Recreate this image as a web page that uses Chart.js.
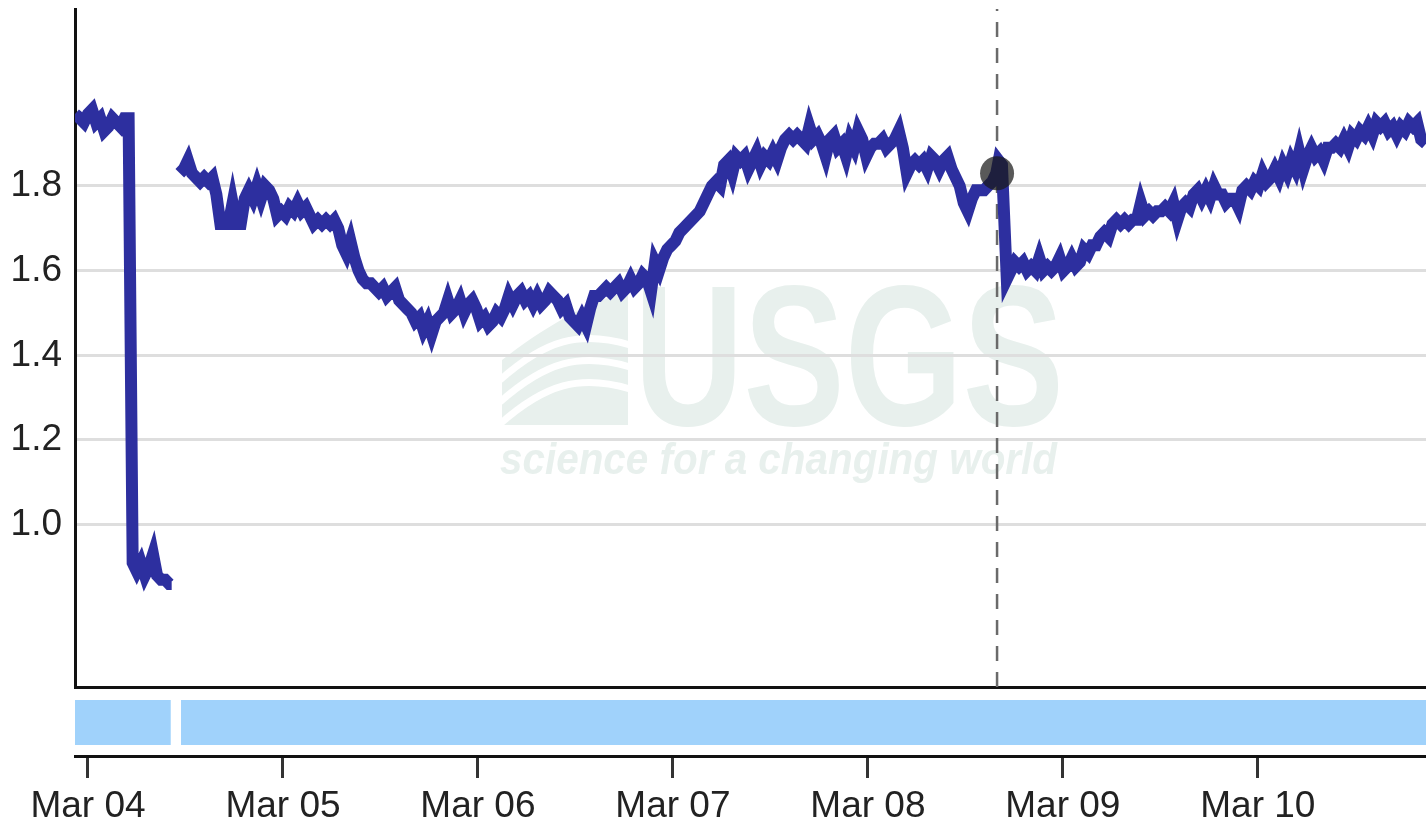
<!DOCTYPE html>
<html lang="en">
<head>
<meta charset="utf-8">
<title>Gage height, feet</title>
<script src="https://cdn.jsdelivr.net/npm/chart.js@4.4.1/dist/chart.umd.min.js"></script>
<style>
  html, body { margin: 0; padding: 0; background: #fff; }
  .chart-wrap { position: relative; width: 1426px; height: 825px; }
</style>
</head>
<body>
<div class="chart-wrap"><canvas id="stageChart" width="1426" height="825"></canvas></div>
<script>
(function () {
  "use strict";

  /* ---------- Data (hours after Mar 04 00:00, gage height in ft) ---------- */
  var hoursA = [-1.6, -1.0, -0.5, 0.0, 0.5, 1.0, 1.5, 2.0, 2.5, 3.0, 3.5, 4.0, 4.5, 5.0,
    5.5, 6.0, 6.5, 7.0, 7.5, 8.0, 8.5, 9.0, 9.5, 10.0, 10.3];
  var stageA = [1.97, 1.96, 1.95, 1.97, 1.98, 1.95, 1.96, 1.93, 1.94, 1.96, 1.95, 1.94, 1.96, 1.96,
    0.91, 0.89, 0.91, 0.88, 0.90, 0.93, 0.88, 0.87, 0.87, 0.86, 0.86];

  var hoursB = [11.3, 11.8, 12.3, 12.8, 13.3, 13.8, 14.3, 14.8, 15.3, 15.8, 16.3, 16.8, 17.3, 17.8,
    18.3, 18.8, 19.3, 19.8, 20.3, 20.8, 21.3, 21.8, 22.3, 22.8, 23.3, 23.8, 24.3, 24.8, 25.3, 25.8,
    26.3, 26.8, 27.3, 27.8, 28.3, 28.8, 29.3, 29.8, 30.3, 30.8, 31.3, 31.8, 32.3, 32.8, 33.3, 33.8,
    34.3, 34.8, 35.3, 35.8, 36.3, 36.8, 37.3, 37.8, 38.3, 38.8, 39.3, 39.8, 40.3, 40.8, 41.3, 41.8,
    42.3, 42.8, 43.3, 43.8, 44.3, 44.8, 45.3, 45.8, 46.3, 46.8, 47.3, 47.8, 48.3, 48.8, 49.3, 49.8,
    50.3, 50.8, 51.3, 51.8, 52.3, 52.8, 53.3, 53.8, 54.3, 54.8, 55.3, 55.8, 56.3, 56.8, 57.3, 57.8,
    58.3, 58.8, 59.3, 59.8, 60.3, 60.8, 61.3, 61.8, 62.3, 62.8, 63.3, 63.8, 64.3, 64.8, 65.3, 65.8,
    66.3, 66.8, 67.3, 67.8, 68.3, 68.8, 69.3, 69.8, 70.3, 70.8, 71.3, 71.8, 72.3, 72.8, 73.3, 73.8,
    74.3, 74.8, 75.3, 75.8, 76.3, 76.8, 77.3, 77.8, 78.3, 78.8, 79.3, 79.8, 80.3, 80.8, 81.3, 81.8,
    82.3, 82.8, 83.3, 83.8, 84.3, 84.8, 85.3, 85.8, 86.3, 86.8, 87.3, 87.8, 88.3, 88.8, 89.3, 89.8,
    90.3, 90.8, 91.3, 91.8, 92.3, 92.8, 93.3, 93.8, 94.3, 94.8, 95.3, 95.8, 96.3, 96.8, 97.3, 97.8,
    98.3, 98.8, 99.3, 99.8, 100.3, 100.8, 101.3, 101.8, 102.3, 102.8, 103.3, 103.8, 104.3, 104.8,
    105.3, 105.8, 106.3, 106.8, 107.3, 107.8, 108.3, 108.8, 109.3, 109.8, 110.3, 110.8, 111.3, 111.8,
    112.1, 112.5, 113.1, 113.6, 114.1, 114.6, 115.1, 115.6, 116.1, 116.6, 117.1, 117.6, 118.1, 118.6,
    119.1, 119.6, 120.1, 120.6, 121.1, 121.6, 122.1, 122.6, 123.1, 123.6, 124.1, 124.6, 125.1, 125.6,
    126.1, 126.6, 127.1, 127.6, 128.1, 128.6, 129.1, 129.6, 130.1, 130.6, 131.1, 131.6, 132.1, 132.6,
    133.1, 133.6, 134.1, 134.6, 135.1, 135.6, 136.1, 136.6, 137.1, 137.6, 138.1, 138.6, 139.1, 139.6,
    140.1, 140.6, 141.1, 141.6, 142.1, 142.6, 143.1, 143.6, 144.1, 144.6, 145.1, 145.6, 146.1, 146.6,
    147.1, 147.6, 148.1, 148.6, 149.1, 149.6, 150.1, 150.6, 151.1, 151.6, 152.1, 152.6, 153.1, 153.6,
    154.1, 154.6, 155.1, 155.6, 156.1, 156.6, 157.1, 157.6, 158.1, 158.6, 159.1, 159.6, 160.1, 160.6,
    161.1, 161.6, 162.1, 162.6, 163.1, 163.6, 164.1, 164.7];
  var stageB = [1.83, 1.84, 1.86, 1.83, 1.82, 1.81, 1.82, 1.81, 1.82, 1.78, 1.71, 1.71, 1.71, 1.76,
    1.71, 1.71, 1.77, 1.79, 1.77, 1.80, 1.77, 1.80, 1.79, 1.77, 1.73, 1.74, 1.73, 1.75, 1.74, 1.76,
    1.74, 1.75, 1.73, 1.71, 1.72, 1.71, 1.72, 1.71, 1.72, 1.70, 1.66, 1.64, 1.67, 1.63, 1.60, 1.58,
    1.57, 1.57, 1.56, 1.55, 1.56, 1.54, 1.55, 1.56, 1.53, 1.52, 1.51, 1.50, 1.48, 1.49, 1.46, 1.48,
    1.45, 1.48, 1.49, 1.50, 1.53, 1.50, 1.51, 1.53, 1.50, 1.52, 1.53, 1.51, 1.48, 1.49, 1.47, 1.48,
    1.50, 1.49, 1.51, 1.54, 1.52, 1.54, 1.55, 1.53, 1.54, 1.52, 1.54, 1.52, 1.53, 1.55, 1.54, 1.53,
    1.51, 1.52, 1.49, 1.48, 1.47, 1.49, 1.47, 1.51, 1.54, 1.54, 1.55, 1.56, 1.55, 1.56, 1.57, 1.55,
    1.56, 1.58, 1.56, 1.57, 1.59, 1.58, 1.55, 1.62, 1.60, 1.63, 1.65, 1.66, 1.67, 1.69, 1.70, 1.71,
    1.72, 1.73, 1.74, 1.76, 1.78, 1.80, 1.81, 1.80, 1.85, 1.86, 1.83, 1.87, 1.86, 1.87, 1.84, 1.86,
    1.88, 1.85, 1.87, 1.86, 1.88, 1.86, 1.89, 1.91, 1.92, 1.91, 1.92, 1.91, 1.90, 1.94, 1.91, 1.92,
    1.90, 1.87, 1.91, 1.92, 1.89, 1.90, 1.87, 1.91, 1.89, 1.93, 1.91, 1.87, 1.89, 1.90, 1.90, 1.91,
    1.89, 1.90, 1.91, 1.93, 1.89, 1.83, 1.85, 1.86, 1.85, 1.86, 1.84, 1.87, 1.86, 1.84,
    1.86, 1.87, 1.84, 1.82, 1.80, 1.76, 1.74, 1.77, 1.79, 1.79, 1.79, 1.80, 1.81, 1.83,
    1.86, 1.85, 1.58, 1.60, 1.62, 1.61, 1.62, 1.60, 1.61, 1.60, 1.63, 1.60, 1.61, 1.60,
    1.61, 1.63, 1.60, 1.61, 1.63, 1.61, 1.62, 1.65, 1.64, 1.66, 1.66, 1.68, 1.69, 1.68,
    1.71, 1.72, 1.71, 1.72, 1.71, 1.72, 1.72, 1.76, 1.73, 1.74, 1.73, 1.74, 1.74, 1.75,
    1.74, 1.76, 1.72, 1.75, 1.76, 1.75, 1.78, 1.79, 1.77, 1.79, 1.77, 1.80, 1.78, 1.78,
    1.76, 1.77, 1.77, 1.75, 1.79, 1.80, 1.79, 1.81, 1.80, 1.83, 1.81, 1.82, 1.84, 1.82,
    1.85, 1.83, 1.86, 1.84, 1.88, 1.84, 1.87, 1.89, 1.87, 1.88, 1.86, 1.89, 1.89, 1.90,
    1.89, 1.91, 1.89, 1.92, 1.91, 1.93, 1.92, 1.94, 1.92, 1.95, 1.94, 1.95, 1.93, 1.94,
    1.92, 1.94, 1.93, 1.95, 1.94, 1.95, 1.91, 1.90];

  var gapHour = 10.8;                        // missing record between the two runs
  var bandSpans = [[-1.6, 10.2], [11.45, 164.7]];   // approved-data bar segments
  var tickHours = [0, 24, 48, 72, 96, 120, 144];
  var tickLabels = ["Mar 04", "Mar 05", "Mar 06", "Mar 07", "Mar 08", "Mar 09", "Mar 10"];
  var yTicks = [1.0, 1.2, 1.4, 1.6, 1.8];
  var markerHour = 111.9;
  var markerStage = 1.83;

  var xMin = -1.6, xMax = 164.7;
  var yMin = 0.6165, yMax = 2.218;
  var bandMin = -0.2444, bandMax = 1.2889;

  /* ---------- Styles ---------- */
  var lineBlue = "#2d2f9f";
  var bandBlue = "#a0d2fb";
  var gridGray = "#dedede";
  var ink = "#111";
  var fontFamily = "'Liberation Sans', Arial, Helvetica, sans-serif";

  var stagePoints = hoursA.map(function (h, i) { return { x: h, y: stageA[i] }; })
    .concat([{ x: gapHour, y: null }])
    .concat(hoursB.map(function (h, i) { return { x: h, y: stageB[i] }; }));

  var bandSets = bandSpans.map(function (span) {
    return {
      type: "line",
      data: [{ x: span[0], y: 1 }, { x: span[1], y: 1 }],
      yAxisID: "yBand",
      borderWidth: 0,
      pointRadius: 0,
      backgroundColor: bandBlue,
      fill: { value: 0 },
      order: 4
    };
  });

  /* ---------- Faint watermark behind the plot ---------- */
  function fitText(ctx, text, font, x, y, w) {
    ctx.font = font;
    var m = ctx.measureText(text).width;
    ctx.save();
    ctx.translate(x, y);
    ctx.scale(w / m, 1);
    ctx.fillText(text, 0, 0);
    ctx.restore();
  }

  var watermark = {
    id: "watermark",
    beforeDraw: function (chart) {
      var ctx = chart.ctx;
      ctx.save();
      ctx.fillStyle = "#e8f0ed";
      ctx.beginPath();
      ctx.moveTo(502, 425);
      ctx.lineTo(502, 360);
      ctx.bezierCurveTo(540, 330, 590, 300, 628, 292);
      ctx.lineTo(628, 425);
      ctx.closePath();
      ctx.fill();
      ctx.strokeStyle = "#fff";
      ctx.lineWidth = 7;
      [0, 22, 44].forEach(function (d) {
        ctx.beginPath();
        ctx.moveTo(500, 380 + d);
        ctx.bezierCurveTo(545, 340 + d, 580, 330 + d, 630, 345 + d);
        ctx.stroke();
      });
      fitText(ctx, "USGS", "bold 200px " + fontFamily, 634, 425, 430);
      fitText(ctx, "science for a changing world", "italic bold 44px " + fontFamily, 500, 474, 557);
      ctx.restore();
    }
  };

  /* ---------- Chart ---------- */
  new Chart(document.getElementById("stageChart"), {
    type: "line",
    data: {
      datasets: [
        {
          type: "line",
          data: [{ x: markerHour, y: markerStage }],
          yAxisID: "y",
          showLine: false,
          pointRadius: 17,
          pointBorderWidth: 0,
          pointBackgroundColor: "rgba(25,25,25,0.72)",
          order: 0
        },
        {
          type: "line",
          label: "Gage height",
          data: stagePoints,
          yAxisID: "y",
          borderColor: lineBlue,
          borderWidth: 12,
          borderJoinStyle: "miter",
          borderCapStyle: "butt",
          pointRadius: 0,
          tension: 0,
          spanGaps: false,
          fill: false,
          order: 1
        },
        {
          type: "line",
          data: [{ x: markerHour, y: yMin }, { x: markerHour, y: yMax }],
          yAxisID: "y",
          borderColor: "#6a6a6a",
          borderWidth: 2.5,
          borderDash: [15, 11],
          pointRadius: 0,
          fill: false,
          order: 2
        }
      ].concat(bandSets)
    },
    options: {
      responsive: false,
      animation: false,
      devicePixelRatio: 1,
      layout: { autoPadding: false, padding: { top: 9, left: 0, right: 0, bottom: 0 } },
      plugins: {
        legend: { display: false },
        tooltip: { enabled: false }
      },
      scales: {
        x: {
          type: "linear",
          min: xMin,
          max: xMax,
          afterBuildTicks: function (s) {
            s.ticks = tickHours.map(function (h) { return { value: h }; });
          },
          afterFit: function (s) { s.height = 69; s.paddingLeft = 0; s.paddingRight = 0; },
          ticks: {
            autoSkip: false,
            maxRotation: 0,
            padding: 7,
            color: "#222",
            font: { family: fontFamily, size: 37 },
            callback: function (v, i) { return tickLabels[i]; }
          },
          grid: {
            display: true,
            drawOnChartArea: false,
            drawTicks: true,
            tickLength: 22,
            tickWidth: 3,
            tickColor: "#333",
            lineWidth: 3,
            color: "#333"
          },
          border: { display: true, color: ink, width: 3 }
        },
        y: {
          type: "linear",
          position: "left",
          stack: "v",
          stackWeight: 678,
          weight: 1,
          min: yMin,
          max: yMax,
          afterBuildTicks: function (s) {
            s.ticks = [{ value: yMin }].concat(yTicks.map(function (v) { return { value: v }; }));
          },
          afterFit: function (s) { s.width = 75; s.paddingTop = 0; s.paddingBottom = 0; },
          ticks: {
            padding: 13,
            color: "#222",
            font: { family: fontFamily, size: 37 },
            callback: function (v) { return v === yMin ? "" : v.toFixed(1); }
          },
          grid: {
            drawTicks: false,
            lineWidth: 3,
            color: function (c) { return c.tick && c.tick.value === yMin ? ink : gridGray; }
          },
          border: { display: true, color: ink, width: 3 }
        },
        yBand: {
          type: "linear",
          position: "left",
          stack: "v",
          stackWeight: 69,
          weight: 0,
          min: bandMin,
          max: bandMax,
          afterFit: function (s) { s.width = 75; s.paddingTop = 0; s.paddingBottom = 0; },
          ticks: { display: false },
          grid: { display: false },
          border: { display: false }
        }
      }
    },
    plugins: [watermark]
  });
})();
</script>
</body>
</html>
